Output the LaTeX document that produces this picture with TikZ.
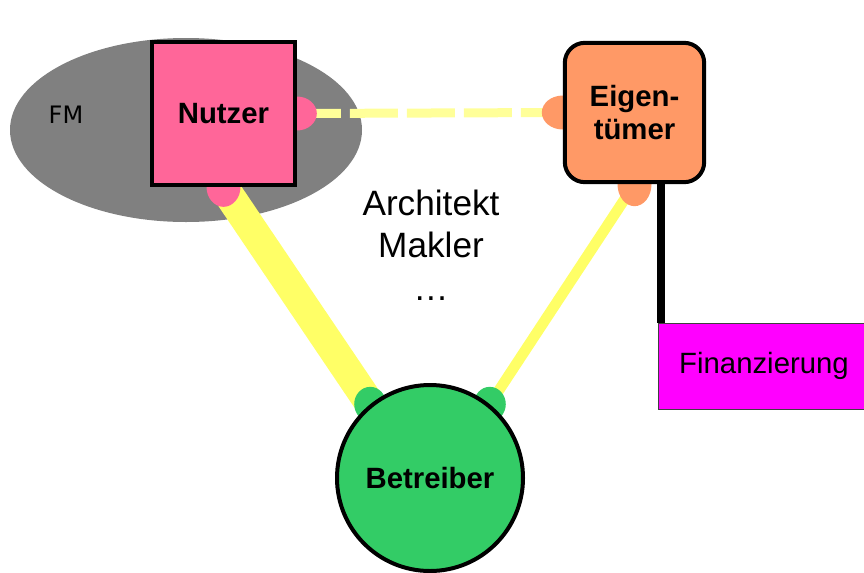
\documentclass[tikz,border=0pt]{standalone}
\usepackage{fontspec}
\setmainfont{Liberation Sans}
\newfontfamily\plainsans{DejaVu Sans}
\usepackage{xcolor}
\definecolor{fmgray}{HTML}{808080}
\definecolor{userpink}{HTML}{FF6699}
\definecolor{ownerorange}{HTML}{FF9966}
\definecolor{opgreen}{HTML}{33CC66}
\definecolor{finmagenta}{HTML}{FF00FF}
\definecolor{linkyellow}{HTML}{FFFF66}
\definecolor{paleyellow}{HTML}{FFFF99}
\usepackage{tikz}
\usetikzlibrary{shapes.geometric, positioning, calc}
\pgfdeclarelayer{back}
\pgfdeclarelayer{links}
\pgfdeclarelayer{bumps}
\pgfsetlayers{back,links,bumps,main}

\begin{document}
\begin{tikzpicture}[
  x=0.75pt, y=-0.75pt,
  labelfont/.style={font=\bfseries\fontsize{22}{25}\selectfont},
  usernode/.style={
    labelfont, draw=black, fill=userpink, line width=3pt,
    minimum size=107pt, inner sep=0pt, align=center
  },
  ownernode/.style={
    labelfont, draw=black, fill=ownerorange, line width=3pt, rounded corners=15pt,
    minimum size=104.5pt, inner sep=0pt, align=center
  },
  opnode/.style={
    labelfont, circle, draw=black, fill=opgreen, line width=3pt,
    minimum size=139.5pt, inner sep=0pt
  },
  finnode/.style={
    font=\fontsize{22}{25}\selectfont, draw=black!75, fill=finmagenta,
    line width=0.75pt, minimum width=159pt, minimum height=64.5pt, inner sep=0pt
  },
  bump/.style n args={2}{ellipse, inner sep=0pt, minimum width=#1, minimum height=#2},
  widelink/.style={linkyellow, line width=22.5pt},
  narrowlink/.style={linkyellow, line width=8pt},
  dashlink/.style={paleyellow, line width=6.75pt, dash pattern=on 36pt off 6.75pt, dash phase=3pt}
]
  \useasboundingbox (0,0) rectangle (864,572);

  \node[usernode]  (nutzer)    at (223.5,113.5) {Nutzer};
  \node[ownernode] (eigen)     at (634.5,112.5) {Eigen-\\tümer};
  \node[opnode]    (betreiber) at (430,478)     {Betreiber};
  \node[finnode]   (fin)       at (764,366)     {Finanzierung};
  \node[font=\fontsize{26.4}{32}\selectfont, align=center] (roles) at (431,245)
    {Architekt\\Makler\\…};

  \begin{pgfonlayer}{back}
    \node[ellipse, fill=fmgray, minimum width=264pt, minimum height=138pt] (fm) at (186,130) {};
    \node[font=\plainsans\fontsize{18}{21}\selectfont] (fmlabel) at (66,115) {FM};
  \end{pgfonlayer}

  % half-hidden blobs where the links dock
  \begin{pgfonlayer}{bumps}
    \node[bump={30pt}{25.5pt}, fill=userpink]    (nR) at (nutzer.east) {};
    \node[bump={25.5pt}{30pt}, fill=userpink]    (nB) at (nutzer.south) {};
    \node[bump={31.5pt}{25.5pt}, fill=ownerorange] (eL) at (eigen.west) {};
    \node[bump={25.5pt}{33pt}, fill=ownerorange] (eB) at (eigen.south) {};
    \node[bump={24pt}{26pt}, fill=opgreen]       (bL) at (betreiber.129) {};
    \node[bump={24pt}{26pt}, fill=opgreen]       (bR) at (betreiber.51) {};
  \end{pgfonlayer}

  \begin{pgfonlayer}{links}
    \draw[widelink]   (nB.center) -- (bL.center);
    \draw[narrowlink] (eB.center) -- (bR.center);
    \draw[dashlink]   (nR.center) -- (eL.center);
    \coordinate (finTop) at ([xshift=2.5pt]fin.north west);
    \draw[line width=6pt] (finTop |- eigen.south) -- (finTop);
  \end{pgfonlayer}
\end{tikzpicture}
\end{document}
